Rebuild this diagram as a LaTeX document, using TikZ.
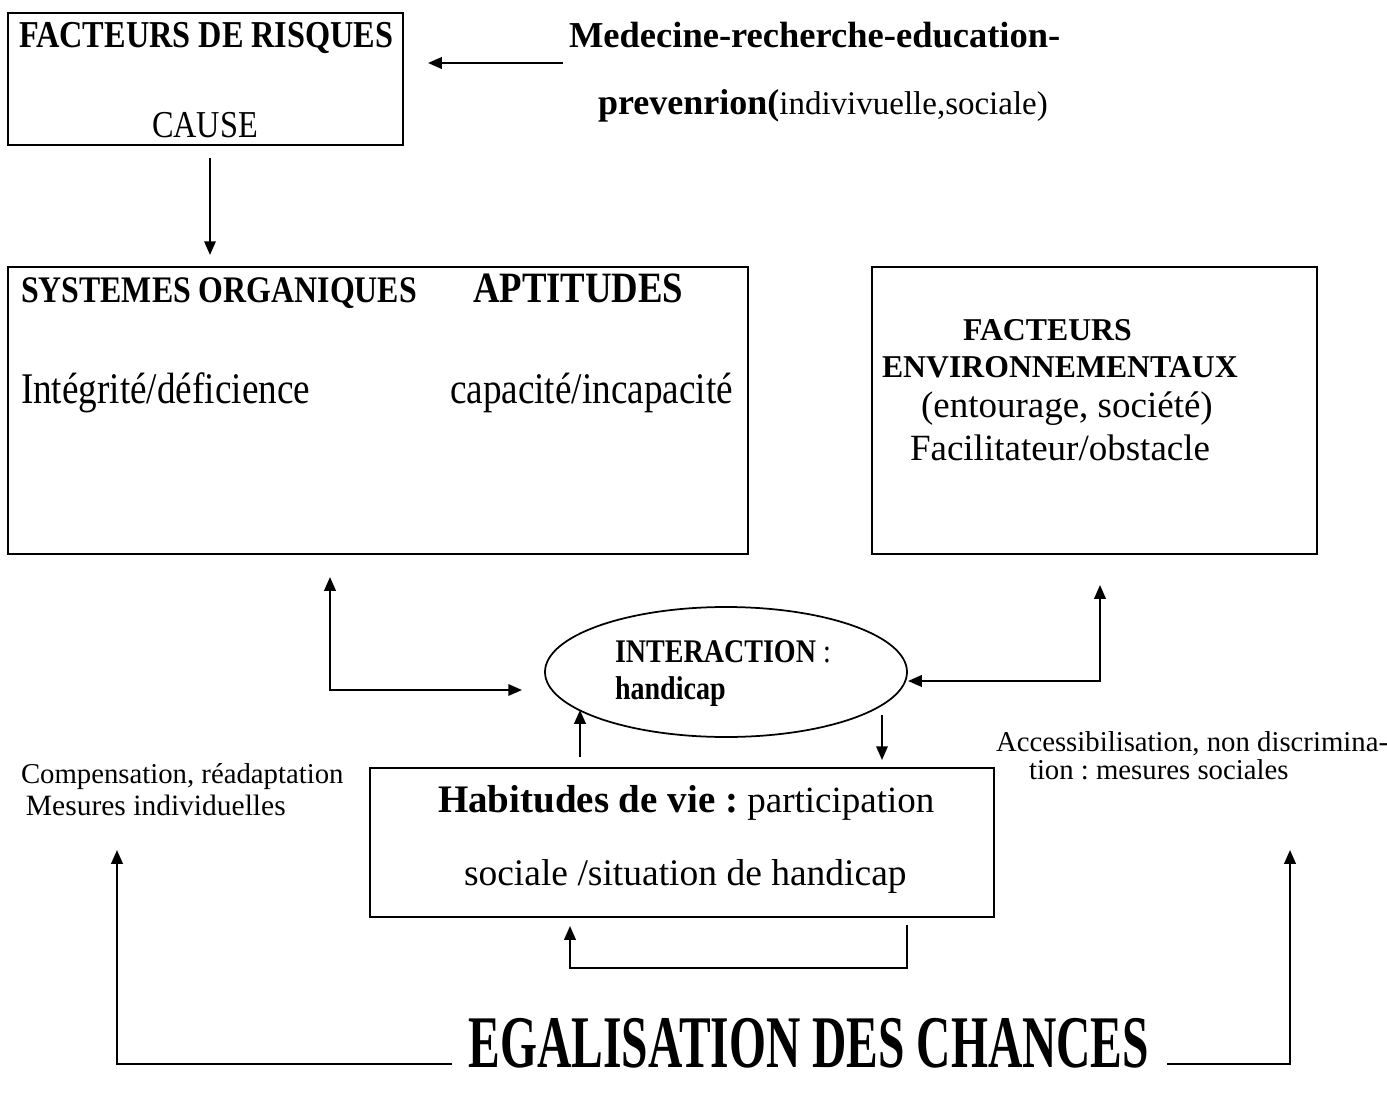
\documentclass[tikz,border=0pt]{standalone}
\usepackage{fontspec}
\setmainfont{Liberation Serif}
\newfontfamily\narrowfont{Liberation Serif}[FakeStretch=0.85]
\newfontfamily\egalfont{Liberation Serif}[FakeStretch=0.64]
\usetikzlibrary{positioning, shapes.geometric, arrows.meta}
\newcommand{\fsz}[1]{\fontsize{#1pt}{#1pt}\selectfont}
\frenchspacing

\begin{document}
\begin{tikzpicture}[x=0.4pt,y=-0.4pt,line width=0.8pt,
  box/.style={draw,rectangle,line width=1pt,inner sep=0pt},
  txt/.style={inner sep=0pt,anchor=base west},
  >={Triangle[length=5.5pt,width=4.6pt]}]
\useasboundingbox (0,0) rectangle (1387,1093);

\node[box,minimum width=158pt,minimum height=52.8pt] (risk) at (205.5,79) {};
\node[box,minimum width=296pt,minimum height=114.8pt] (sys) at (378,410.5) {};
\node[box,minimum width=178pt,minimum height=114.8pt] (env) at (1094.5,410.5) {};
\node[box,minimum width=249.6pt,minimum height=59.6pt] (hab) at (682,842.5) {};
\node[draw,ellipse,line width=0.7pt,inner sep=0pt,minimum width=144.8pt,minimum height=52pt] (inter) at (726,672) {};

\node[txt,font=\narrowfont\bfseries\fsz{15.2}] (riskname) at (18,47) {FACTEURS DE RISQUES};
\node[inner sep=0pt,anchor=base,font=\narrowfont\fsz{15.2}] (cause) at (205,137) {CAUSE};
\node[txt,font=\bfseries\fsz{14.6}] (med) at (568,47) {Medecine-recherche-education-};
\node[txt,font=\fsz{13.2}] (prev) at (597,114) {{\bfseries\fsz{14.4}prevenrion(}indivivuelle,sociale)};

\node[txt,font=\narrowfont\bfseries\fsz{15}] (sysname) at (20,302) {SYSTEMES ORGANIQUES};
\node[txt,font=\narrowfont\bfseries\fsz{17.3}] (apt) at (472,302) {APTITUDES};
\node[txt,font=\narrowfont\fsz{17.5}] (integ) at (20,403) {Intégrité/déficience};
\node[txt,font=\narrowfont\fsz{17.5}] (capac) at (449,403) {capacité/incapacité};

\node[txt,font=\bfseries\fsz{12.7}] (envname) at (962,340) {FACTEURS};
\node[txt,font=\bfseries\fsz{12.7}] (envname2) at (881,377) {ENVIRONNEMENTAUX};
\node[txt,font=\fsz{14.8}] (entour) at (920,417) {(entourage, société)};
\node[txt,font=\fsz{14.8}] (facil) at (909,460) {Facilitateur/obstacle};

\node[txt,font=\narrowfont\bfseries\fsz{13.2}] (intname) at (614,662) {INTERACTION {\mdseries :}};
\node[txt,font=\narrowfont\bfseries\fsz{13.2}] (handi) at (614,699) {handicap};

\node[txt,font=\fsz{14.8}] (habname) at (437,812) {{\bfseries\fsz{15.6}Habitudes de vie :} participation};
\node[txt,font=\fsz{15}] (habsit) at (463,885) {sociale /situation de handicap};

\node[txt,font=\fsz{11.5}] (comp) at (20,783) {Compensation, réadaptation};
\node[txt,font=\fsz{11.8}] (mesind) at (25,815) {Mesures individuelles};
\node[txt,font=\fsz{11.5}] (access) at (995,751) {Accessibilisation, non discrimina-};
\node[txt,font=\fsz{11.5}] (messoc) at (1028,779) {tion : mesures sociales};

\node[inner sep=0pt,anchor=base,font=\egalfont\bfseries\fsz{29.7}] (egal) at (809,1067) {EGALISATION DES CHANCES};

\coordinate (medtail) at (563,63);
\coordinate (riskin) at (428,63);
\draw[->] (medtail) -- (riskin);
\coordinate (riskout) at (210,158);
\coordinate (sysin) at (210,255);
\draw[->] (riskout) -- (sysin);

\coordinate (sysback) at (330,577);
\coordinate (intleft) at (522,690);
\draw[<->] (sysback) |- (intleft);
\coordinate (envback) at (1100,585);
\coordinate (intright) at (908,681);
\draw[<->] (envback) |- (intright);

\coordinate (habup) at (580,757);
\coordinate (intbot) at (580,710);
\draw[->] (habup) -- (intbot);
\coordinate (intdown) at (882,715);
\coordinate (habin) at (882,760);
\draw[->] (intdown) -- (habin);

\coordinate (loopout) at (907,925);
\coordinate (loopturn) at (570,968);
\coordinate (loopin) at (570,926);
\draw[->] (loopout) |- (loopturn) -- (loopin);

\coordinate (egalleft) at (452,1064);
\coordinate (compup) at (117,850);
\draw[->] (egalleft) -| (compup);
\coordinate (egalright) at (1167,1064);
\coordinate (accup) at (1290,850);
\draw[->] (egalright) -| (accup);

\end{tikzpicture}
\end{document}
